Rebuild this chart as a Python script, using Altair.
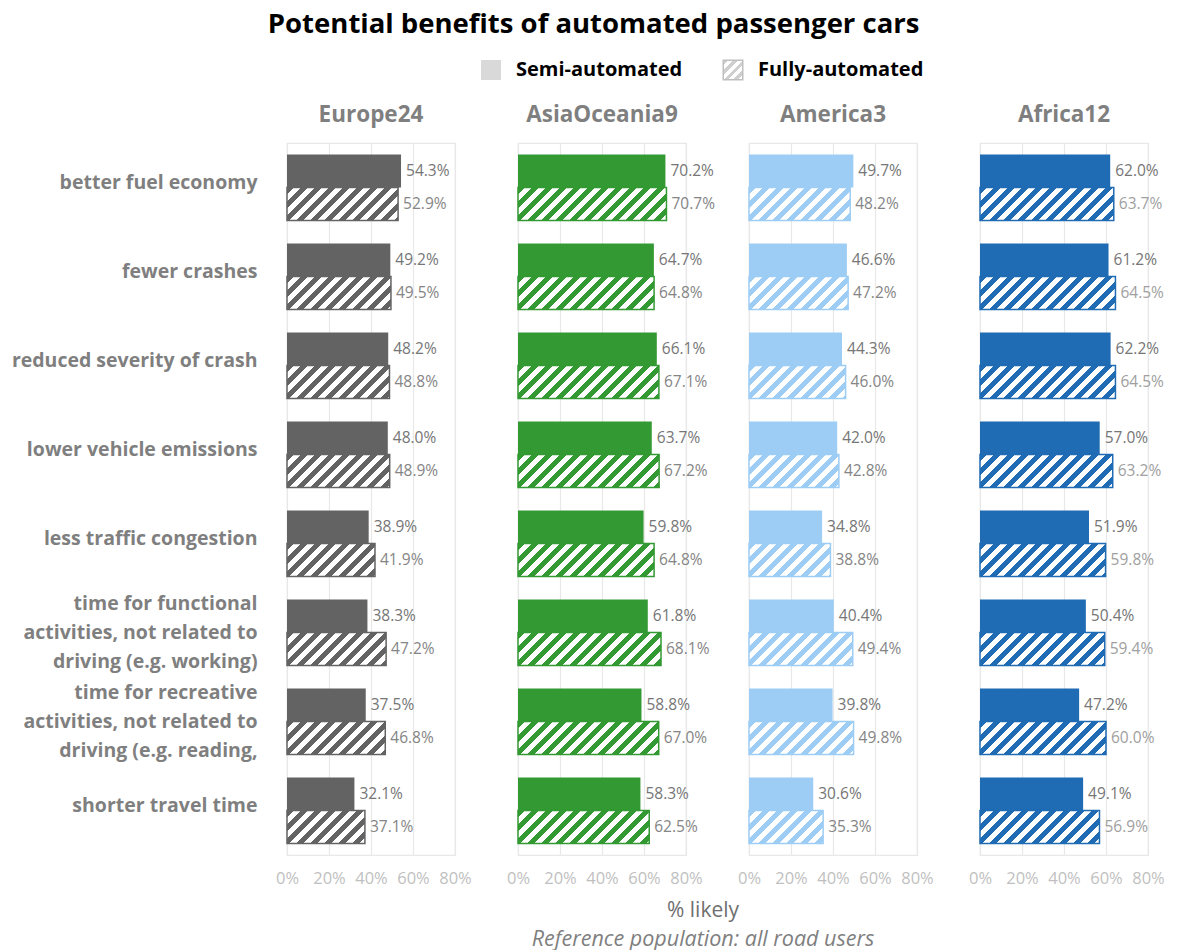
import altair as alt
import pandas as pd

# ---------------- data ----------------
categories = [
    "better fuel economy",
    "fewer crashes",
    "reduced severity of crash",
    "lower vehicle emissions",
    "less traffic congestion",
    "time for functional|activities, not related to|driving (e.g. working)",
    "time for recreative|activities, not related to|driving (e.g. reading,",
    "shorter travel time",
]
regions = ["Europe24", "AsiaOceania9", "America3", "Africa12"]

semi_europe = [54.3, 49.2, 48.2, 48.0, 38.9, 38.3, 37.5, 32.1]
full_europe = [52.9, 49.5, 48.8, 48.9, 41.9, 47.2, 46.8, 37.1]
semi_asia = [70.2, 64.7, 66.1, 63.7, 59.8, 61.8, 58.8, 58.3]
full_asia = [70.7, 64.8, 67.1, 67.2, 64.8, 68.1, 67.0, 62.5]
semi_america = [49.7, 46.6, 44.3, 42.0, 34.8, 40.4, 39.8, 30.6]
full_america = [48.2, 47.2, 46.0, 42.8, 38.8, 49.4, 49.8, 35.3]
semi_africa = [62.0, 61.2, 62.2, 57.0, 51.9, 50.4, 47.2, 49.1]
full_africa = [63.7, 64.5, 64.5, 63.2, 59.8, 59.4, 60.0, 56.9]

semi_values = [semi_europe, semi_asia, semi_america, semi_africa]
full_values = [full_europe, full_asia, full_america, full_africa]
region_colors = ["#636363", "#339933", "#9dcdf5", "#1f6bb4"]
full_label_colors = ["#858585", "#858585", "#858585", "#a0a0a0"]

series = ["Semi", "Full"]
legend_names = ["Semi-automated", "Fully-automated"]
x_ticks = [0, 20, 40, 60, 80]

# ---------------- layout constants ----------------
FONT = "Open Sans"
PW, PH = 168, 712
GAP = 63
BAND_PAD = 0.258
STEP = PH / len(categories)
HALF = STEP * (1 - BAND_PAD) / 2
LABEL_GREY = "#7f7f7f"
BLOCK_W = PW * 4 + GAP * 3  # width of the four panels


def hatch(color, w, h, period=14.0, frac=0.5):
    """Diagonal '/' stripes as a linear gradient over a w x h box."""
    n = (w + h) / period
    k = (w + h) / (w * w + h * h)
    stops = []
    i = 0
    while i < n:
        a = min(i / n, 1.0)
        b = min((i + frac) / n, 1.0)
        c = min((i + 1) / n, 1.0)
        stops += [
            alt.GradientStop(offset=a, color=color),
            alt.GradientStop(offset=b, color=color),
            alt.GradientStop(offset=b, color="white"),
            alt.GradientStop(offset=c, color="white"),
        ]
        i += 1
    return alt.LinearGradient(gradient="linear", x1=0, y1=0, x2=w * k, y2=h * k, stops=stops)


def panel(idx):
    region = regions[idx]
    color = region_colors[idx]
    df = pd.DataFrame({
        "cat": categories * 2,
        "idx": list(range(len(categories))) * 2,
        "type": ["Semi"] * len(categories) + ["Full"] * len(categories),
        "value": semi_values[idx] + full_values[idx],
    })
    if idx == 0:
        yaxis = alt.Axis(
            title=None, ticks=False, domain=False, labelFontSize=19.5, labelFontWeight="bold",
            labelColor=LABEL_GREY, labelFont=FONT, labelPadding=30, labelLimit=400,
            labelExpr="split(datum.label, '|')", labelLineHeight=29,
            labelOffset={"condition": {"test": "indexof(datum.value, '|') < 0", "value": -5}, "value": -29},
            minExtent=286, maxExtent=286,
        )
    else:
        yaxis = None
    xaxis = alt.Axis(
        values=x_ticks, labelExpr="datum.value + '%'", title=None, ticks=False, domain=False,
        labelColor="#bfbfbf", labelFontSize=16.5, labelFont=FONT, labelPadding=15,
        labelOverlap=False, labelFlush=False,
        gridColor="#e8e8e8", gridWidth=1.2,
    )
    base = alt.Chart(df).encode(
        y=alt.Y("cat:N", scale=alt.Scale(domain=categories, paddingInner=BAND_PAD,
                                         paddingOuter=BAND_PAD / 2), axis=yaxis),
        yOffset=alt.YOffset("type:N", scale=alt.Scale(domain=series)),
        x=alt.X("value:Q", scale=alt.Scale(domain=[0, 80]), axis=xaxis),
    )
    layers = [base.transform_filter("datum.type == 'Semi'").mark_bar(color=color)]
    for k, v in enumerate(full_values[idx]):
        w = v / 80 * PW
        layers.append(
            base.transform_filter(f"datum.type == 'Full' && datum.idx == {k}")
            .mark_bar(fill=hatch(color, w, HALF), stroke=color, strokeWidth=1.5)
        )
    layers.append(
        base.transform_calculate(label="format(datum.value, '.1f') + '%'")
        .mark_text(align="left", baseline="middle", dx=5, fontSize=15.5, font=FONT)
        .encode(
            text="label:N",
            color=alt.condition("datum.type == 'Semi'", alt.value("#767676"),
                                alt.value(full_label_colors[idx])),
        )
    )
    return alt.layer(*layers).properties(
        width=PW, height=PH,
        view=alt.ViewBackground(stroke="#e8e8e8", strokeWidth=1.2),
        title=alt.TitleParams(region, fontSize=22.5, font=FONT, fontWeight="bold",
                              color=LABEL_GREY, offset=17, anchor="middle"),
    )


panels = alt.hconcat(*[panel(i) for i in range(4)], spacing=GAP, bounds="flush")

# legend (x measured from the left edge of the first panel)
leg_df = pd.DataFrame({"name": legend_names})
leg_x = alt.X("name:N", scale=alt.Scale(type="point", domain=legend_names, range=[204, 446], padding=0), axis=None)
leg_base = alt.Chart(leg_df).encode(x=leg_x, y=alt.value(10))
leg_sq1 = leg_base.transform_filter(f"datum.name == '{legend_names[0]}'").mark_square(
    size=400, fill="#d9d9d9", opacity=1)
leg_sq2 = leg_base.transform_filter(f"datum.name == '{legend_names[1]}'").mark_square(
    size=380, fill=hatch("#cfcfcf", 20, 20, period=10), stroke="#bfbfbf", strokeWidth=1.5, opacity=1)
leg_txt = leg_base.mark_text(align="left", baseline="middle", dx=25, fontSize=20,
                             fontWeight="bold", font=FONT, color="black").encode(text="name:N")
legend = alt.layer(leg_sq1, leg_sq2, leg_txt).properties(
    width=BLOCK_W, height=30, view=alt.ViewBackground(stroke=None))

# footer
foot_df = pd.DataFrame({"t": ["% likely", "Reference population: all road users"],
                        "row": [0, 1]})
foot1 = alt.Chart(foot_df).transform_filter("datum.row == 0").mark_text(
    fontSize=21, font=FONT, color="#6f6f6f", baseline="middle").encode(
    text="t:N", x=alt.value(416), y=alt.value(10))
foot2 = alt.Chart(foot_df).transform_filter("datum.row == 1").mark_text(
    fontSize=21.5, font=FONT, color=LABEL_GREY, fontStyle="italic", baseline="middle").encode(
    text="t:N", x=alt.value(416), y=alt.value(39))
footer = alt.layer(foot1, foot2).properties(
    width=BLOCK_W, height=50, view=alt.ViewBackground(stroke=None))

chart = alt.vconcat(legend, panels, footer, spacing=12).properties(
    title=alt.TitleParams("Potential benefits of automated passenger cars", fontSize=27.5,
                          font=FONT, fontWeight="bold", color="black", anchor="middle",
                          frame="bounds", offset=19, dx=11),
    padding={"left": 0, "top": 10, "right": 0, "bottom": 0},
).configure_view(stroke=None).configure(font=FONT)

chart.save("out.html", embed_options={"renderer": "svg", "actions": False})
